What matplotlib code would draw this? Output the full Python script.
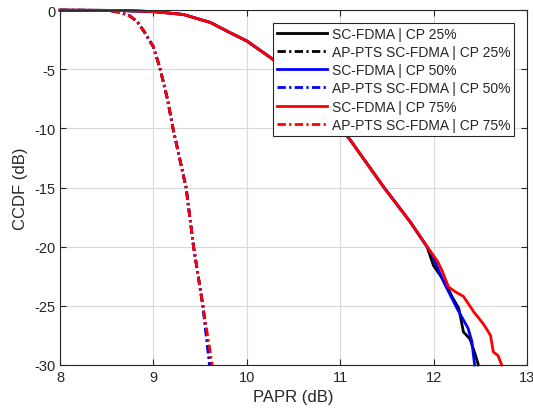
import matplotlib
matplotlib.use("Agg")
from matplotlib import pyplot as plt

plt.rcParams['font.family'] = ['Liberation Sans', 'DejaVu Sans']
plt.rcParams['axes.unicode_minus'] = False

# shared part of the SC-FDMA curves (all CP lengths overlap here)
sc_x = [8.0, 8.6, 9.0, 9.32, 9.61, 9.82, 10.0, 10.27, 10.5, 10.75, 11.0, 11.11, 11.47, 11.75, 11.93]
sc_y = [0, -0.02, -0.12, -0.36, -1.04, -1.9, -2.6, -4.1, -5.7, -7.6, -9.9, -11.0, -15.0, -17.9, -20.0]

# tails where the curves separate
sc25_x = [12.0, 12.07, 12.14, 12.21, 12.27, 12.32, 12.39, 12.45, 12.48]
sc25_y = [-21.6, -22.4, -23.3, -24.4, -25.2, -27.2, -27.8, -29.2, -30.0]
sc50_x = [11.98, 12.11, 12.25, 12.37, 12.41, 12.44]
sc50_y = [-20.6, -23.0, -25.2, -26.9, -28.0, -30.0]
sc75_x = [12.04, 12.09, 12.16, 12.23, 12.32, 12.43, 12.54, 12.61, 12.64, 12.69, 12.73]
sc75_y = [-21.2, -22.0, -23.4, -23.8, -24.2, -25.5, -26.6, -27.5, -28.9, -29.2, -30.0]

# AP-PTS curves
ap_x = [8.0, 8.5, 8.64, 8.75, 8.83, 8.9, 9.0, 9.07, 9.15, 9.21, 9.28, 9.35, 9.43, 9.53]
ap_y = [0, -0.02, -0.17, -0.5, -1.0, -1.8, -3.1, -4.9, -7.5, -10.0, -12.5, -15.0, -20.0, -25.0]
ap_end_x = {'25': 9.61, '50': 9.60, '75': 9.63}

cp = ['25', '50', '75']
colors = ['k', 'b', 'r']
tails = [(sc25_x, sc25_y), (sc50_x, sc50_y), (sc75_x, sc75_y)]

fig = plt.figure(figsize=(5.33, 4.14), dpi=100)
ax = fig.add_axes([0.1126, 0.116, 0.876, 0.857])

for c, col, (tx, ty) in zip(cp, colors, tails):
    ax.plot(sc_x + tx, sc_y + ty, '-', color=col, lw=2, clip_on=False,
            label=f'SC-FDMA | CP {c}%')
    ax.plot(ap_x + [ap_end_x[c]], ap_y + [-30.0], color=col, lw=2, clip_on=False,
            dashes=(3, 1.2, 0.8, 1.2), label=f'AP-PTS SC-FDMA | CP {c}%')

ax.set_xlim(8, 13)
ax.set_ylim(-30, 0)
ax.set_xticks([8, 9, 10, 11, 12, 13])
ax.set_yticks([0, -5, -10, -15, -20, -25, -30])
ax.grid(True, color='#d9d9d9', lw=0.8)
ax.set_axisbelow(True)
ax.tick_params(direction='in', top=True, right=True, labelsize=10.5,
               colors='#262626', length=4)
for s in ax.spines.values():
    s.set_color('#262626')
ax.set_xlabel('PAPR (dB)', fontsize=12, color='#262626')
ax.set_ylabel('CCDF (dB)', fontsize=12, color='#262626')

leg = ax.legend(loc='upper right', fontsize=10, labelspacing=0.3, handlelength=3.6,
                borderaxespad=0.9, fancybox=False, framealpha=1, edgecolor='#262626',
                handletextpad=0.3, borderpad=0.3)
leg.get_frame().set_linewidth(0.8)
for t in leg.get_texts():
    t.set_color('#262626')

fig.savefig('out.png', dpi=100)
